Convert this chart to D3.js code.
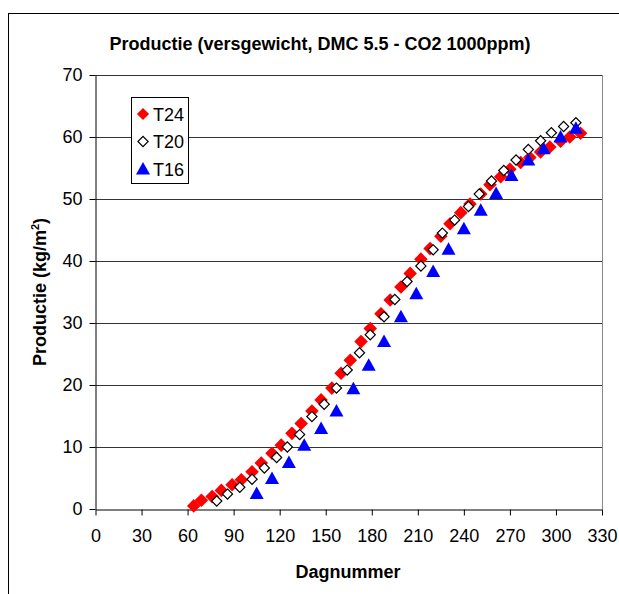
<!DOCTYPE html>
<html>
<head>
<meta charset="utf-8">
<script src="https://cdn.jsdelivr.net/npm/d3@7"></script>
<style>
    body { margin: 0; background: #fff; }
    text { font-family: 'Liberation Sans', Arial, sans-serif; }
</style>
</head>
<body>
<svg id="chart" width="619" height="594"></svg>
<script>
// dagnummer + productie per serie
const t24Days = [64, 69, 76, 82, 89, 95, 102, 108, 115, 121, 128, 134, 141, 147, 154, 160, 166, 173, 179, 186,
    192, 199, 205, 212, 218, 225, 231, 238, 244, 251, 257, 264, 270, 277, 283, 290, 296, 303, 309, 316]
const t24Values = [0.5, 1.4, 2.0, 3.0, 3.9, 4.7, 6.0, 7.4, 9.0, 10.3, 12.2, 13.8, 15.8, 17.6, 19.5, 21.9, 24.0, 27.0, 29.1, 31.5,
    33.7, 35.8, 38.0, 40.3, 42.0, 44.0, 46.0, 47.8, 49.2, 50.8, 52.3, 53.6, 54.8, 55.9, 56.7, 57.6, 58.4, 59.3, 60.0, 60.6]

const t20Days = [79, 86, 94, 102, 110, 118, 125, 133, 141, 149, 157, 164, 172, 179, 188, 195, 203, 212, 220, 226,
    234, 243, 250, 258, 266, 274, 282, 290, 297, 305, 313]
const t20Values = [1.3, 2.4, 3.5, 4.8, 6.6, 8.3, 10.0, 12.0, 14.9, 16.9, 19.5, 22.4, 25.2, 28.1, 31.0, 33.8, 36.7, 39.2, 41.8, 44.5,
    46.6, 48.8, 50.8, 52.9, 54.6, 56.3, 58.0, 59.4, 60.7, 61.7, 62.3]

const t16Days = [105, 115, 126, 136, 147, 157, 168, 178, 188, 199, 209, 220, 230, 240, 251, 261, 271, 282, 292, 303, 313]
const t16Values = [2.5, 4.9, 7.5, 10.3, 13.0, 15.8, 19.4, 23.2, 27.0, 31.0, 34.7, 38.3, 41.9, 45.2, 48.2, 50.9, 53.8, 56.3, 58.1, 60.0, 61.4]

const seriesNames = ['T24', 'T20', 'T16']
const xTicks = d3.range(0, 331, 30)
const yTicks = d3.range(0, 71, 10)

const svg = d3.select('#chart')

// buitenrand van de grafiek
svg.append('rect')
    .attr('x', 8.5).attr('y', 13.5)
    .attr('width', 640).attr('height', 600)
    .attr('fill', '#fff')
    .attr('stroke', '#000')

const plotLeft = 95.5, plotRight = 602, plotTop = 75, plotBottom = 509

const xScale = d3.scaleLinear().domain([0, 330]).range([plotLeft, plotRight])
const yScale = d3.scaleLinear().domain([0, 70]).range([plotBottom, plotTop])

// rasterlijnen
svg.append('g')
    .selectAll('line')
    .data(yTicks.slice(1))
    .join('line')
    .attr('x1', plotLeft).attr('x2', plotRight)
    .attr('y1', d => Math.round(yScale(d)) + 0.5)
    .attr('y2', d => Math.round(yScale(d)) + 0.5)
    .attr('stroke', '#333')

svg.append('line')
    .attr('x1', plotRight + 0.5).attr('x2', plotRight + 0.5)
    .attr('y1', plotTop).attr('y2', plotBottom)
    .attr('stroke', '#888')

// assen
const xAxis = svg.append('g')
    .attr('transform', `translate(0,${plotBottom + 0.5})`)
    .call(d3.axisBottom(xScale).tickValues(xTicks).tickSizeInner(6).tickSizeOuter(0).tickPadding(14))
const yAxis = svg.append('g')
    .attr('transform', `translate(${plotLeft},0)`)
    .call(d3.axisLeft(yScale).tickValues(yTicks).tickSizeInner(6).tickSizeOuter(0).tickPadding(7))

;[xAxis, yAxis].forEach(ax => {
    ax.selectAll('text').attr('font-size', 18).attr('fill', '#000').style('font-family', "'Liberation Sans', Arial, sans-serif")
    ax.selectAll('line, path').attr('stroke', '#000')
})

// symbolen
const diamondBig = d3.symbol(d3.symbolSquare, 92)
const diamondSmall = d3.symbol(d3.symbolSquare, 52)
const triangle = 'M0,-7L7,5.5L-7,5.5Z'

const drawSeries = function (days, values, draw) {
    const g = svg.append('g')
    days.forEach((d, i) => {
        draw(g.append('path')
            .attr('transform', `translate(${xScale(d)},${yScale(values[i])})`))
    })
}

const styleT24 = p => p.attr('d', diamondBig()).attr('transform', p.attr('transform') + ' rotate(45)').attr('fill', '#ff0000')
const styleT20 = p => p.attr('d', diamondSmall()).attr('transform', p.attr('transform') + ' rotate(45)')
    .attr('fill', '#fff').attr('stroke', '#000').attr('stroke-width', 1.2)
const styleT16 = p => p.attr('d', triangle).attr('fill', '#0000ff')

drawSeries(t24Days, t24Values, styleT24)
drawSeries(t20Days, t20Values, styleT20)
drawSeries(t16Days, t16Values, styleT16)

// legenda
const legend = svg.append('g')
legend.append('rect')
    .attr('x', 131.5).attr('y', 97.5)
    .attr('width', 57).attr('height', 86)
    .attr('fill', '#fff').attr('stroke', '#000')

const styles = [styleT24, styleT20, styleT16]
seriesNames.forEach((name, i) => {
    const y = 114 + i * 27.5
    const marker = legend.append('path').attr('transform', `translate(143,${y})`)
    styles[i](marker)
    if (i === 0) marker.attr('d', d3.symbol(d3.symbolSquare, 74)())
    legend.append('text')
        .attr('x', 153).attr('y', y + 6.5)
        .attr('font-size', 18)
        .text(name)
})

// titels
svg.append('text')
    .attr('x', 320).attr('y', 50)
    .attr('text-anchor', 'middle')
    .attr('font-size', 18).attr('font-weight', 'bold')
    .text('Productie (versgewicht, DMC 5.5 - CO2 1000ppm)')

svg.append('text')
    .attr('x', 348).attr('y', 578)
    .attr('text-anchor', 'middle')
    .attr('font-size', 18).attr('font-weight', 'bold')
    .text('Dagnummer')

const yTitle = svg.append('text')
    .attr('transform', 'translate(46,292) rotate(-90)')
    .attr('text-anchor', 'middle')
    .attr('font-size', 18).attr('font-weight', 'bold')
yTitle.append('tspan').text('Productie (kg/m')
yTitle.append('tspan').attr('font-size', 11).attr('dy', -7).text('2')
yTitle.append('tspan').attr('dy', 7).text(')')
</script>
</body>
</html>
